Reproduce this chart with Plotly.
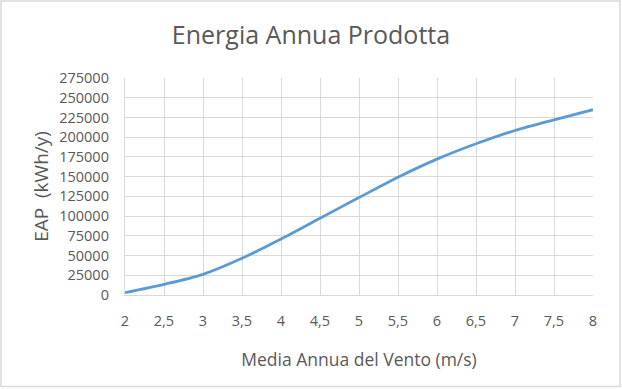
import plotly.graph_objects as go

wind_speed = [2, 2.5, 3, 3.5, 4, 4.5, 5, 5.5, 6, 6.5, 7, 7.5, 8]
eap = [3000, 13500, 26200, 46500, 71000, 97300, 123500, 149300, 172200, 191600, 208500, 222000, 234800]
y_ticks = list(range(0, 275001, 25000))
x_ticks = wind_speed

W, H = 622, 389
ML, MR, MT, MB = 125, 29, 78, 94
pw, ph = W - ML - MR, H - MT - MB

font = "Open Sans"
grey = "#595959"
grid = "#d9d9d9"

fig = go.Figure(go.Scatter(
    x=wind_speed, y=eap, mode="lines",
    line=dict(color="#5b9bd5", width=2.8, shape="spline", smoothing=0.8),
    hoverinfo="x+y",
))

fig.update_layout(
    width=W, height=H,
    margin=dict(l=ML, r=MR, t=MT, b=MB, autoexpand=False),
    paper_bgcolor="white", plot_bgcolor="white",
    separators=", ",
    showlegend=False,
    title=dict(text="Energia Annua Prodotta", x=311 / W, xanchor="center",
               y=1 - 35 / H, yanchor="middle",
               font=dict(family=font, size=25, color=grey)),
    xaxis=dict(range=[2, 8], tickvals=x_ticks, ticktext=[str(v).replace(".", ",") for v in x_ticks],
               automargin=False,
               showgrid=True, gridcolor=grid, gridwidth=1.3,
               showline=True, linecolor=grid, linewidth=1.3, mirror=False,
               zeroline=False, ticks="outside", ticklen=12, tickcolor="rgba(0,0,0,0)",
               tickfont=dict(family=font, size=14.5, color=grey),
               title=dict(text="Media Annua del Vento (m/s)", standoff=25,
                          font=dict(family=font, size=17.5, color=grey))),
    yaxis=dict(range=[0, 275000], tickvals=y_ticks, ticktext=[str(v) for v in y_ticks],
               automargin=False,
               showgrid=True, gridcolor=grid, gridwidth=1.3,
               showline=True, linecolor=grid, linewidth=1.3,
               zeroline=False, ticks="outside", ticklen=12, tickcolor="rgba(0,0,0,0)",
               tickfont=dict(family=font, size=14.5, color=grey),
               title=dict(text="EAP  (kWh/y)", standoff=5,
                          font=dict(family=font, size=19, color=grey))),
)

fig.add_shape(type="rect", xref="paper", yref="paper",
              x0=(1 - ML) / pw, x1=(W - 2 - ML) / pw,
              y0=-(MB - 2.5) / ph, y1=1 + (MT - 1) / ph,
              line=dict(color=grid, width=1.5), layer="below")

fig.write_html("out.html", config={"displayModeBar": False},
               post_script="document.body.style.margin='0';")
